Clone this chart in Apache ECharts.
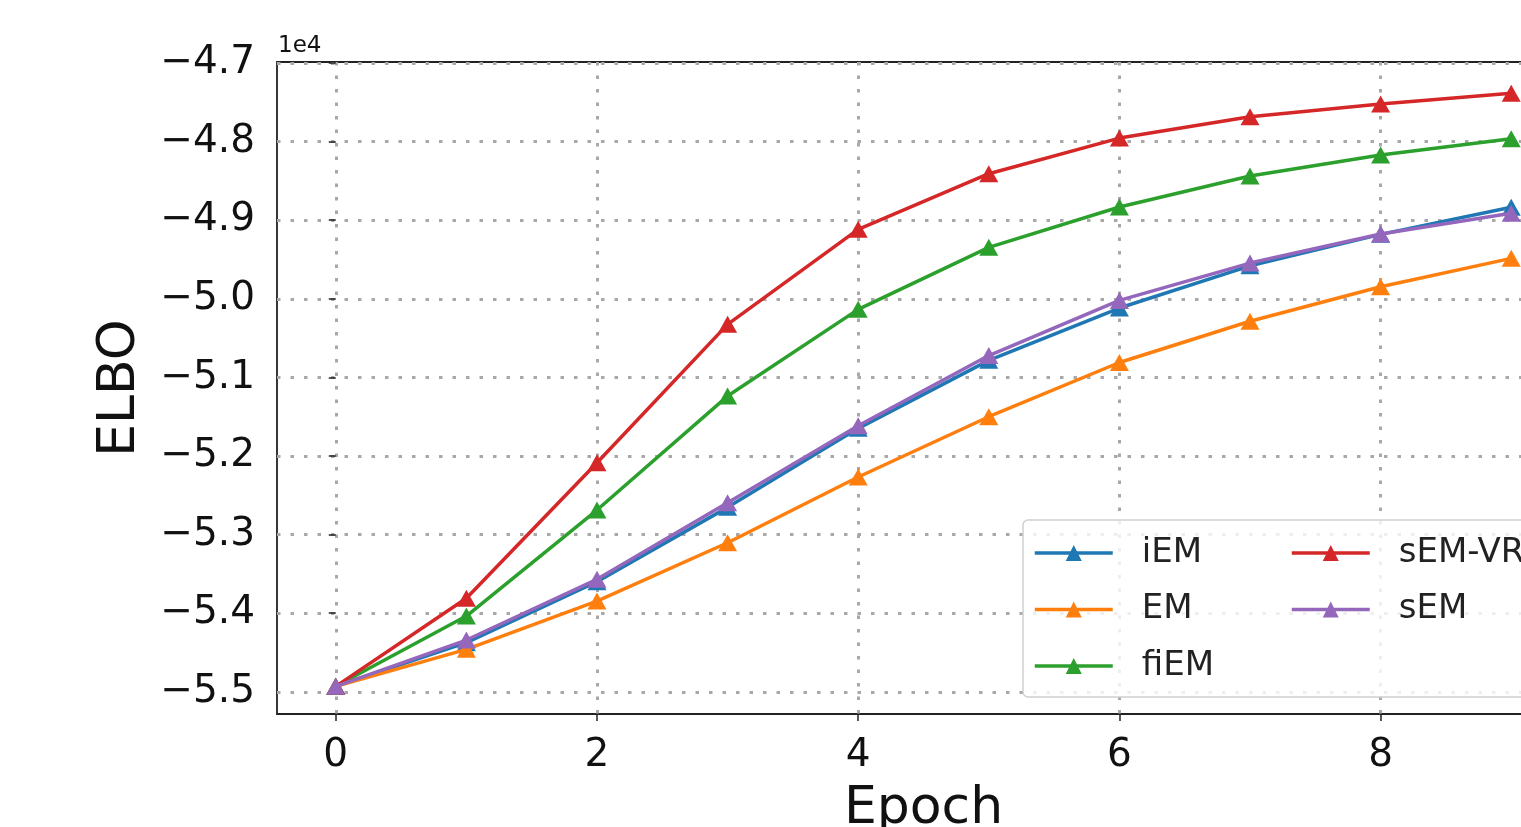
<!DOCTYPE html>
<html>
<head>
<meta charset="utf-8">
<script src="https://cdn.jsdelivr.net/npm/echarts@6/dist/echarts.min.js"></script>
<style>
  html, body { margin: 0; padding: 0; background: #fff; overflow: hidden; }
  #chart { width: 1600px; height: 827px; }
</style>
</head>
<body>
<div id="chart"></div>
<script>
// ---- data ----
const epochs = [0, 1, 2, 3, 4, 5, 6, 7, 8, 9];
const seriesNames = ['iEM', 'EM', 'fiEM', 'sEM-VR', 'sEM'];
const iEM   = [-54930, -54375, -53599, -52653, -51648, -50783, -50117, -49580, -49180, -48836];
const EM    = [-54930, -54459, -53845, -53103, -52267, -51500, -50810, -50285, -49846, -49485];
const fiEM  = [-54930, -54036, -52687, -51237, -50134, -49345, -48832, -48438, -48170, -47963];
const sEMVR = [-54930, -53810, -52085, -50325, -49116, -48408, -47955, -47683, -47522, -47386];
const sEM   = [-54930, -54341, -53569, -52594, -51614, -50722, -50020, -49545, -49176, -48912];
const xTicks = [0, 2, 4, 6, 8];
const yTicks = [-55000, -54000, -53000, -52000, -51000, -50000, -49000, -48000, -47000];
const colors = ['#1f77b4', '#ff7f0e', '#2ca02c', '#d62728', '#9467bd'];
const values = [iEM, EM, fiEM, sEMVR, sEM];

const FONT = 'DejaVu Sans';
const chart = echarts.init(document.getElementById('chart'), null, { renderer: 'canvas' });

const gridLine = { show: true, lineStyle: { color: '#a8a8a8', width: 3, type: [3.5, 10] } };

const series = seriesNames.map((name, i) => ({
  name: name,
  type: 'line',
  data: epochs.map((e, j) => [e, values[i][j]]),
  symbol: 'triangle',
  symbolSize: [19, 17],
  showAllSymbol: true,
  lineStyle: { color: colors[i], width: 3.5 },
  itemStyle: { color: colors[i] },
  emphasis: { disabled: true },
  animation: false,
  z: 2 + i * 0.01
}));

const legendCommon = {
  orient: 'vertical',
  padding: 0,
  itemWidth: 78,
  itemHeight: 20,
  itemGap: 20.5,
  lineStyle: { width: 3.5 },
  textStyle: { fontFamily: FONT, fontSize: 34, color: '#222', lineHeight: 36, padding: [0, 0, 0, 24] },
  selectedMode: false,
  z: 6
};

chart.setOption({
  animation: false,
  color: colors,
  grid: { left: 277, right: 30, top: 62, bottom: 113, outerBoundsMode: 'none', containLabel: false,
          show: true, borderColor: '#222', borderWidth: 1.8, backgroundColor: 'transparent' },
  xAxis: {
    type: 'value',
    min: -0.45,
    max: 9.45,
    splitNumber: 5,
    axisLine: { show: false },
    axisTick: { show: true, inside: false, length: 7, lineStyle: { color: '#222', width: 1.5 }, customValues: xTicks },
    axisLabel: { show: true, customValues: xTicks, margin: 22, fontFamily: FONT, fontSize: 39, color: '#111' },
    splitLine: gridLine,
    name: 'Epoch',
    nameLocation: 'middle',
    nameGap: 69,
    nameTextStyle: { fontFamily: FONT, fontSize: 52, color: '#111' }
  },
  yAxis: {
    type: 'value',
    min: -55282,
    max: -46987,
    splitNumber: 8,
    axisLine: { show: false },
    axisTick: { show: true, inside: false, length: 7, lineStyle: { color: '#222', width: 1.5 }, customValues: yTicks },
    axisLabel: {
      show: true, customValues: yTicks, margin: 22, fontFamily: FONT, fontSize: 39, color: '#111',
      padding: [4, 0, 0, 0],
      formatter: v => (v / 10000).toFixed(1).replace('-', '\u2212')
    },
    splitLine: gridLine,
    name: 'ELBO',
    nameLocation: 'middle',
    nameGap: 131,
    nameRotate: 90,
    nameTextStyle: { fontFamily: FONT, fontSize: 52, color: '#111' }
  },
  legend: [
    Object.assign({}, legendCommon, { data: seriesNames.slice(0, 3), left: 1033, top: 535 }),
    Object.assign({}, legendCommon, { data: seriesNames.slice(3), left: 1290, top: 535 })
  ],
  graphic: [
    { type: 'rect', shape: { x: 1023, y: 520, width: 600, height: 177, r: 5 },
      style: { fill: 'rgba(255,255,255,0.8)', stroke: '#d0d0d0', lineWidth: 1.5 }, z: 5 },
    { type: 'text', left: 278, top: 35, style: { text: '1e4', font: '23px "DejaVu Sans"', fill: '#111' }, z: 5 }
  ],
  series: series
});
</script>
</body>
</html>
